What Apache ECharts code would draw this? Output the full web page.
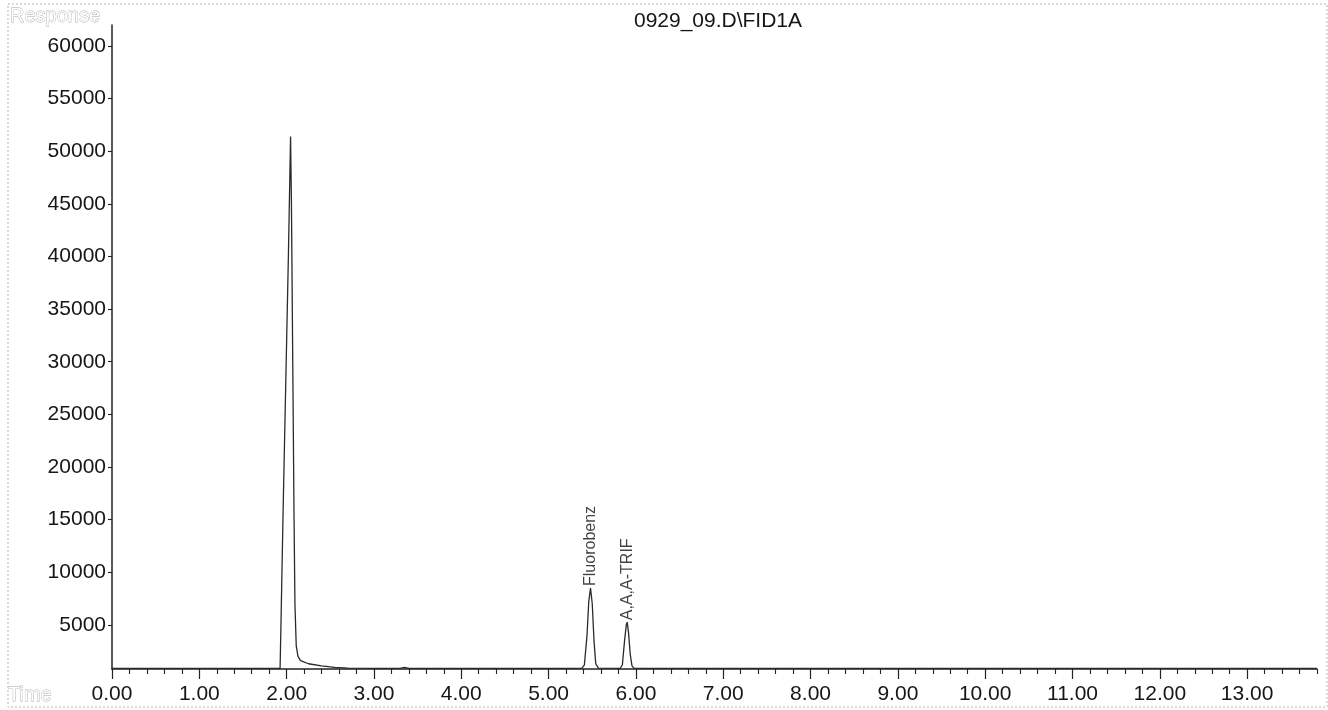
<!DOCTYPE html>
<html>
<head>
<meta charset="utf-8">
<script src="https://cdn.jsdelivr.net/npm/echarts@6/dist/echarts.min.js"></script>
<style>
html,body{margin:0;padding:0;background:#fff;}
#c{width:1328px;height:710px;}
</style>
</head>
<body>
<div id="c"></div>
<script>
// Chromatogram trace (time in min, response)
const times = [0.00, 1.00, 1.90, 1.925, 1.935, 1.96, 1.99, 2.02, 2.045, 2.055, 2.07, 2.085, 2.095, 2.11, 2.13, 2.16, 2.25, 2.40, 2.55, 2.70, 3.00, 3.30, 3.35, 3.40, 4.00, 5.00, 5.38, 5.41, 5.44, 5.46, 5.48, 5.50, 5.52, 5.54, 5.57, 5.82, 5.845, 5.87, 5.89, 5.90, 5.915, 5.935, 5.955, 5.98, 7.00, 10.00, 13.80];
const responses = [850, 850, 850, 870, 5000, 16000, 28000, 40000, 51400, 45000, 30000, 15000, 7000, 3000, 2000, 1600, 1300, 1100, 950, 880, 850, 850, 950, 850, 850, 850, 850, 1200, 4000, 7200, 8500, 7000, 3500, 1300, 880, 850, 1200, 3500, 5000, 5250, 4300, 2200, 1100, 860, 850, 850, 850];

// Peak annotations
const peakTimes = [5.48, 5.90];
const peakHeights = [8500, 5250];
const peakNames = ['Fluorobenz', 'A,A,A-TRIF'];

// Axis tick labels
const xTicks = [0, 1, 2, 3, 4, 5, 6, 7, 8, 9, 10, 11, 12, 13];
const yTicks = [5000, 10000, 15000, 20000, 25000, 30000, 35000, 40000, 45000, 50000, 55000, 60000];
const titleText = '0929_09.D\\FID1A';

const xMin = 0, xMax = 13.8, yMin = 800, yMax = 62000;

const minorTicks = [];
for (let i = 1; i < 70; i++) { if (i % 5 !== 0) minorTicks.push(+(i * 0.2).toFixed(1)); }

const traceData = times.map((t, i) => [t, responses[i]]);
const peakData = peakTimes.map((t, i) => [t, peakHeights[i], peakNames[i]]);

const chart = echarts.init(document.getElementById('c'));
const tickFont = 'Liberation Sans';
chart.setOption({
  animation: false,
  backgroundColor: '#fff',
  grid: { left: 112, right: 11, top: 25, bottom: 41, containLabel: false, outerBoundsMode: 'none' },
  xAxis: [{
    type: 'value', min: xMin, max: xMax,
    axisLine: { show: true, lineStyle: { color: '#222', width: 1.5 } },
    axisTick: { show: true, customValues: xTicks, length: 10, lineStyle: { color: '#222', width: 1.2 } },
    axisLabel: { customValues: xTicks, formatter: v => v.toFixed(2), fontFamily: tickFont, fontSize: 21, color: '#161616', margin: 15 },
    splitLine: { show: false }
  }, {
    type: 'value', min: xMin, max: xMax, position: 'bottom', gridIndex: 0,
    axisLine: { show: false },
    axisTick: { show: true, customValues: minorTicks, length: 5, lineStyle: { color: '#222', width: 1.1 } },
    axisLabel: { show: false },
    splitLine: { show: false }
  }],
  yAxis: {
    type: 'value', min: yMin, max: yMax,
    axisLine: { show: true, lineStyle: { color: '#222', width: 1.5 } },
    axisTick: { show: true, customValues: yTicks, length: 4, lineStyle: { color: '#222', width: 1.1 } },
    axisLabel: { customValues: yTicks, formatter: v => String(v), fontFamily: tickFont, fontSize: 21, color: '#161616', margin: 6 },
    splitLine: { show: false }
  },
  series: [{
    type: 'line', data: traceData, xAxisIndex: 0, showSymbol: false, symbol: 'none',
    smooth: false, lineStyle: { color: '#2a2a2a', width: 1.3 }, z: 5
  }, {
    type: 'scatter', data: peakData, xAxisIndex: 0, symbolSize: 0, z: 6,
    label: {
      show: true, formatter: p => p.data[2], position: 'top', distance: 2,
      rotate: 90, align: 'left', verticalAlign: 'middle',
      fontFamily: 'Liberation Sans', fontSize: 16, color: '#111'
    }
  }],
  graphic: [
    { type: 'rect', shape: { x: 8, y: 4, width: 1319, height: 703 }, style: { fill: 'none', stroke: '#b5b5b5', lineWidth: 1, lineDash: [2, 2] }, silent: true },
    { type: 'text', x: 718, y: 21, style: { text: titleText, font: '21px "Liberation Sans"', fill: '#161616', textAlign: 'center', textVerticalAlign: 'middle' } },
    { type: 'text', x: 10, y: 16, style: { text: 'Response', font: '20px "Liberation Sans"', fill: '#fff', stroke: '#a8a8a8', lineWidth: 0.8, textVerticalAlign: 'middle' } },
    { type: 'text', x: 8, y: 695, style: { text: 'Time', font: '20px "Liberation Sans"', fill: '#fff', stroke: '#a8a8a8', lineWidth: 0.8, textVerticalAlign: 'middle' } }
  ]
});
</script>
</body>
</html>
